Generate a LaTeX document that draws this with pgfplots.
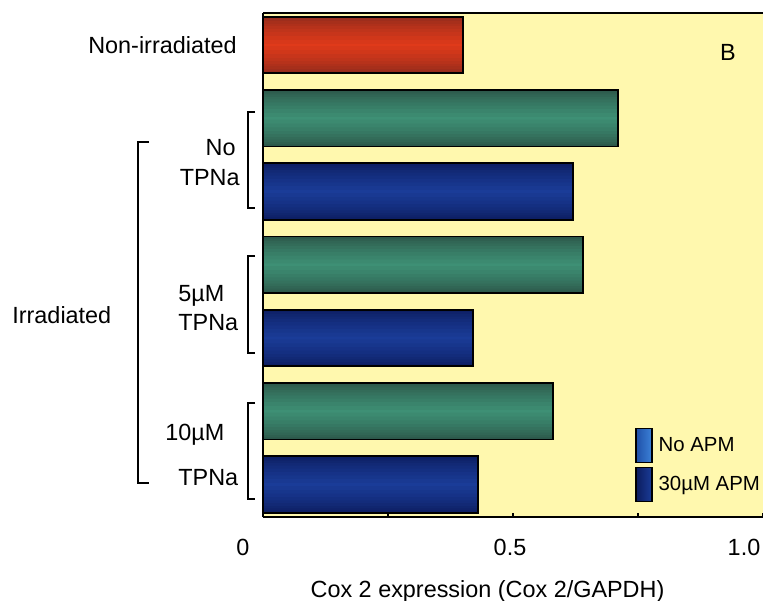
\documentclass[border=0pt]{standalone}
\usepackage{fontspec}
\setmainfont{Liberation Sans}
\usepackage{pgfplots}
\usepackage{pgfplotstable}
\pgfplotsset{compat=1.18}

\definecolor{bgyellow}{HTML}{FFF8AE}
\definecolor{redDark}{HTML}{8E2A1C}
\definecolor{redMid}{HTML}{E03A1A}
\definecolor{grnDark}{HTML}{2B5447}
\definecolor{grnMid}{HTML}{3E9075}
\definecolor{bluDark}{HTML}{0C1C5E}
\definecolor{bluMid}{HTML}{1A3C98}
\definecolor{lbluDark}{HTML}{1F50A8}
\definecolor{lbluMid}{HTML}{3C82D8}

\newcommand{\lab}{\fontsize{11.7}{14}\selectfont}

% value = Cox 2/GAPDH ratio, pos = row of the bar (top row = 6)
\pgfplotstableread{
value pos
0.40  6
}\redtab
\pgfplotstableread{
value pos
0.71  5
0.64  3
0.58  1
}\noapmtab
\pgfplotstableread{
value pos
0.62  4
0.42  2
0.43  0
}\apmtab

% bars with a rounded, cylinder-like look: stacked bands from dark edge to bright core
\newcommand{\cylbars}[3]{%
  \pgfplotsinvokeforeach{0,10,...,100}{%
    \addplot[xbar, bar shift=0pt, bar width={(28.25*(1-0.95*(##1/100)^1.5))*1pt},
      draw=none, fill=#3!##1!#2, forget plot] table[x=value,y=pos] {#1};
  }%
  \addplot[xbar, bar shift=0pt, bar width=28.25pt, draw=black,
    line width=0.8pt, fill=none, forget plot] table[x=value,y=pos] {#1};
}

\begin{document}
\begin{tikzpicture}
\begin{axis}[
  scale only axis,
  width=250pt, height=252pt,
  xmin=0, xmax=1,
  ymin=-0.444, ymax=6.437,
  axis background/.style={fill=bgyellow},
  axis x line*=bottom, axis y line*=left,
  axis line style={-, line width=0.9pt},
  ytick=\empty,
  xtick={0,0.25,0.5,0.75,1},
  xticklabels={\makebox[0pt]{0\hspace{20pt}},,\makebox[0pt]{0.5\hspace{3pt}},,\makebox[0pt]{1.0\hspace{19pt}}},
  xtick align=inside,
  major tick length=2pt,
  tick style={line width=0.7pt, black},
  xticklabel style={font=\lab, anchor=base, inner sep=0pt, yshift=-19.2pt},
  xlabel={Cox 2 expression (Cox 2/GAPDH)},
  x label style={font=\lab, at={(axis description cs:0.449,0)}, anchor=base, inner sep=0pt, yshift=-40.4pt},
  legend style={draw=none, fill=none, inner sep=0pt, row sep=2pt,
    column sep=3pt, font=\fontsize{10.2}{12}\selectfont,
    at={(axis description cs:0.744,0.028)}, anchor=south west,
    nodes={inner sep=0pt}},
  legend cell align=left,
  legend image code/.code={\path[draw=black, line width=0.6pt, #1] (0pt,-8.5pt) rectangle (8pt,8.5pt);},
]
\cylbars{\redtab}{redDark}{redMid}
\cylbars{\noapmtab}{grnDark}{grnMid}
\cylbars{\apmtab}{bluDark}{bluMid}
\addlegendimage{left color=lbluDark, right color=lbluMid}
\addlegendentry{No APM}
\addlegendimage{left color=bluDark, right color=bluMid}
\addlegendentry{30µM APM}
\draw[line width=0.6pt] (rel axis cs:0,1) -- (rel axis cs:1,1);
\end{axis}

% category labels and group brackets
\begin{scope}[every node/.style={inner sep=0pt, font=\lab}]
\node[anchor=base east] at (-13pt,231.8pt) {Non-irradiated};
\node[anchor=base east] at (-13.5pt,180.8pt) {No};
\node[anchor=base east] at (-11.5pt,165.8pt) {TPNa};
\node[anchor=base west] at (-42.5pt,107.8pt) {5µM};
\node[anchor=base west] at (-42.5pt,93.3pt) {TPNa};
\node[anchor=base west] at (-49pt,38.3pt) {10µM};
\node[anchor=base west] at (-42.5pt,15.8pt) {TPNa};
\node[anchor=base west] at (-125.5pt,96.8pt) {Irradiated};
\node[anchor=base] at (232.5pt,228.3pt) {B};
\end{scope}
\begin{scope}[line width=0.8pt]
\draw (-4pt,202.5pt) -| (-7.5pt,154.5pt) -- (-4pt,154.5pt);
\draw (-4pt,130.5pt) -| (-7.5pt,82pt) -- (-4pt,82pt);
\draw (-4pt,57pt) -| (-7.5pt,9pt) -- (-4pt,9pt);
\draw (-57pt,187.5pt) -| (-62.5pt,17pt) -- (-57pt,17pt);
\end{scope}

\pgfresetboundingbox
\path (-131.5pt,-41.5pt) rectangle (250pt,258.5pt);
\end{tikzpicture}
\end{document}
